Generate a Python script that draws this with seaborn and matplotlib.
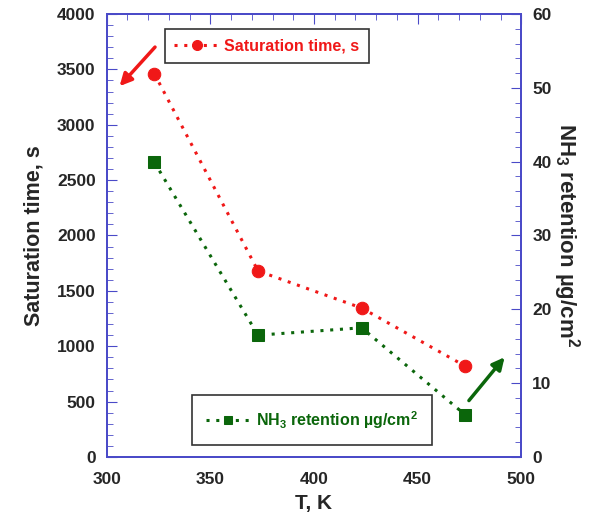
import numpy as np
import pandas as pd
import matplotlib
matplotlib.use('Agg')
import matplotlib.pyplot as plt
from matplotlib.ticker import MultipleLocator
import seaborn as sns

# datos
temp = [323, 373, 423, 473]
sat_time = [3460, 1680, 1345, 820]
nh3_ret = [39.9, 16.5, 17.5, 5.7]

sns.set_style('white')
plt.rcParams['font.family'] = ['Liberation Sans', 'DejaVu Sans']
plt.rcParams['font.weight'] = 'bold'
plt.rcParams['mathtext.fontset'] = 'custom'
plt.rcParams['mathtext.rm'] = 'Liberation Sans:bold'
plt.rcParams['mathtext.bf'] = 'Liberation Sans:bold'
plt.rcParams['mathtext.default'] = 'bf'

azul = '#4a4ac8'
rojo = '#f01818'
verde = '#0b660b'
punteado = (0, (1, 2.2))

df = pd.DataFrame({'T': temp, 'sat': sat_time, 'nh3': nh3_ret})

fig = plt.figure(figsize=(5.93, 5.19), dpi=100)
ax = fig.add_axes([0.180, 0.1195, 0.699, 0.8535])
ax2 = ax.twinx()

sns.lineplot(data=df, x='T', y='sat', ax=ax, color=rojo, marker='o', markersize=9,
             markeredgecolor=rojo, linewidth=2.2, linestyle=punteado, label='Saturation time, s')
sns.lineplot(data=df, x='T', y='nh3', ax=ax2, color=verde, marker='s', markersize=8,
             markeredgecolor=verde, linewidth=2.2, linestyle=punteado,
             label='NH$_3$ retention µg/cm$^2$')

ax.set_xlim(300, 500)
ax.set_ylim(0, 4000)
ax2.set_ylim(0, 60)

ax.xaxis.set_major_locator(MultipleLocator(50))
ax.xaxis.set_minor_locator(MultipleLocator(10))
ax.yaxis.set_major_locator(MultipleLocator(500))
ax.yaxis.set_minor_locator(MultipleLocator(100))
ax2.yaxis.set_major_locator(MultipleLocator(10))
ax2.yaxis.set_minor_locator(MultipleLocator(2))

ax.tick_params(axis='both', which='both', direction='in', color=azul, top=True,
               labelsize=12.5, pad=8)
ax.tick_params(axis='x', which='both', pad=11)
ax.tick_params(axis='both', which='major', length=7)
ax.tick_params(axis='both', which='minor', length=4)
ax2.tick_params(axis='y', which='both', direction='in', color=azul, labelsize=12.5, pad=8)
ax2.tick_params(axis='y', which='major', length=7)
ax2.tick_params(axis='y', which='minor', length=4)

for a in (ax, ax2):
    for s in a.spines.values():
        s.set_color(azul)
        s.set_linewidth(1.3)

ax.set_xlabel('T, K', fontsize=15, fontweight='bold', labelpad=5)
ax.set_ylabel('Saturation time, s', fontsize=15.5, fontweight='bold', labelpad=9)
ax2.set_ylabel('NH$_3$ retention µg/cm$^2$', fontsize=16, fontweight='bold',
               rotation=270, labelpad=22)

# leyendas
leg1 = ax.legend(loc='upper left', bbox_to_anchor=(0.14, 0.967), frameon=True, fancybox=False,
                 edgecolor='black', fontsize=11.5, labelcolor='linecolor', handlelength=2.8,
                 handletextpad=0.3, markerscale=0.8, borderpad=0.6, borderaxespad=0)
leg1.get_frame().set_linewidth(1.2)
leg2 = ax2.legend(loc='lower left', bbox_to_anchor=(0.205, 0.027), frameon=True, fancybox=False,
                  edgecolor='black', fontsize=11.5, labelcolor='linecolor', handlelength=2.8,
                  handletextpad=0.3, markerscale=0.8, borderpad=0.9, borderaxespad=0)
leg2.get_frame().set_linewidth(1.2)

# flechas indicando el eje de cada serie
ax.annotate('', xy=(305.3, 3330), xytext=(324.2, 3720),
            arrowprops=dict(arrowstyle='-|>', color=rojo, lw=2.5, mutation_scale=18))
ax.annotate('', xy=(492.8, 920), xytext=(473.9, 490),
            arrowprops=dict(arrowstyle='-|>', color=verde, lw=2.5, mutation_scale=18))

fig.savefig('out.png', dpi=100)
